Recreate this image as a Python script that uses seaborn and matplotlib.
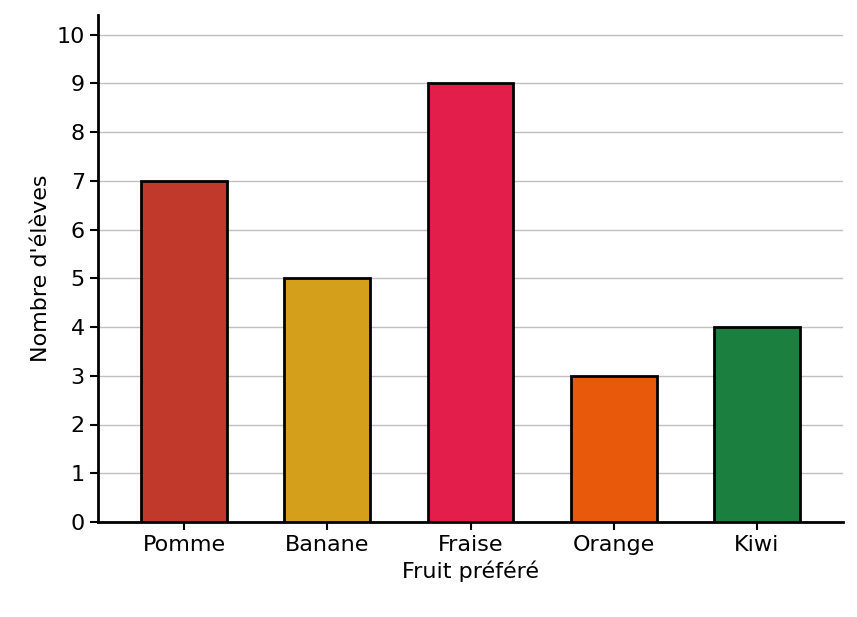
import matplotlib
matplotlib.use("Agg")
import matplotlib.pyplot as plt
import seaborn as sns
import pandas as pd

fruits = ["Pomme", "Banane", "Fraise", "Orange", "Kiwi"]
eleves = [7, 5, 9, 3, 4]
couleurs = ["#C0392B", "#D4A01C", "#E31E4A", "#E8590C", "#1A7F3F"]

sns.set_style("white")
plt.rcParams['font.family'] = ['DejaVu Sans']
plt.rcParams['text.color'] = 'black'
plt.rcParams['axes.labelcolor'] = 'black'
plt.rcParams['xtick.color'] = 'black'
plt.rcParams['ytick.color'] = 'black'
fig = plt.figure(figsize=(8.57, 6.17), dpi=100)
ax = fig.add_axes([98/857, 1-522/617, 745/857, 507/617])
df = pd.DataFrame({"fruit": fruits, "n": eleves})
sns.barplot(data=df, x="fruit", y="n", hue="fruit", palette=couleurs, width=0.6,
            saturation=1, edgecolor="black", linewidth=2, legend=False, ax=ax, zorder=3)
ax.set_xlim(-0.6, 4.6)
ax.set_ylim(0, 10.4)
ax.set_yticks(range(0, 11))
ax.yaxis.grid(True, color="#c0c0c0", linewidth=1, zorder=0)
ax.set_axisbelow(True)
for s in ["top", "right"]:
    ax.spines[s].set_visible(False)
for s in ["left", "bottom"]:
    ax.spines[s].set_linewidth(2)
    ax.spines[s].set_color("black")
ax.tick_params(axis="both", labelsize=16, length=6, width=1.5, left=True, bottom=True, color="black")
ax.set_xlabel("Fruit préféré", fontsize=16)
ax.set_ylabel("Nombre d'élèves", fontsize=16)
fig.savefig("out.png", dpi=100)
